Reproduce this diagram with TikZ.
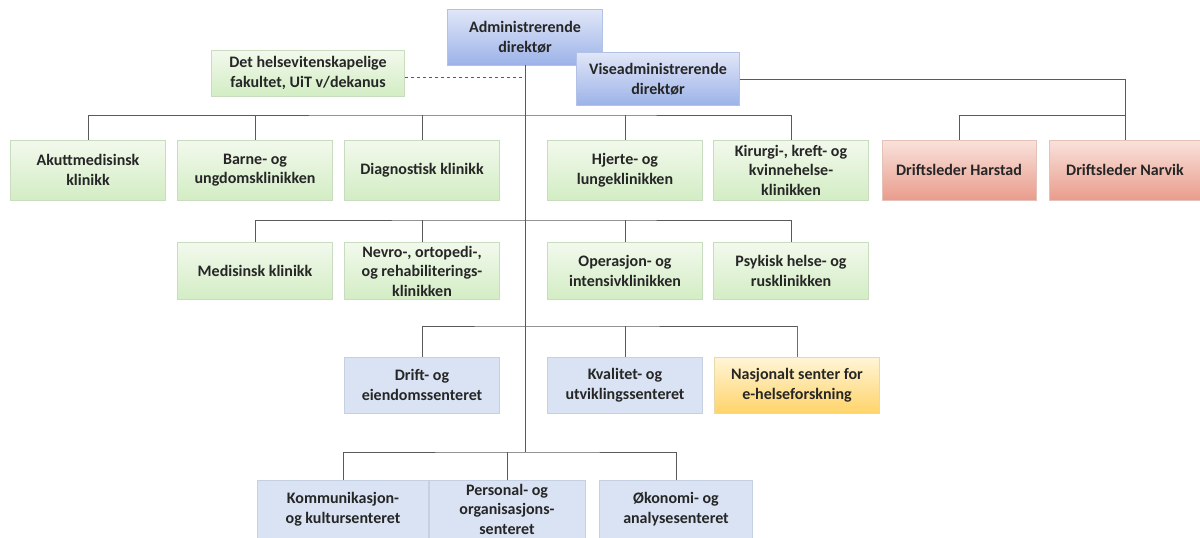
\documentclass[tikz,border=0pt]{standalone}
\usepackage{fontspec}
\setmainfont{Carlito}
\definecolor{linegray}{HTML}{5A5A5A}
\definecolor{txt}{HTML}{262626}
\definecolor{clinicedge}{HTML}{C9DCBF}
\definecolor{clinictop}{HTML}{F2F9ED}
\definecolor{clinicbot}{HTML}{D3EDC4}
\definecolor{centeredge}{HTML}{C6D0E3}
\definecolor{centerfill}{HTML}{DAE3F3}
\definecolor{bossedge}{HTML}{B2C1E6}
\definecolor{bosstop}{HTML}{E1E7F8}
\definecolor{bossbot}{HTML}{9CB2E8}
\definecolor{leaderedge}{HTML}{E3C2BA}
\definecolor{leadertop}{HTML}{F9E2DC}
\definecolor{leaderbot}{HTML}{E99C8C}
\definecolor{ehealthedge}{HTML}{EAD9A8}
\definecolor{ehealthtop}{HTML}{FFF5D8}
\definecolor{ehealthbot}{HTML}{FFD469}
\definecolor{linkblue}{HTML}{4472C4}
\tikzset{
	box/.style={draw=#1,minimum height=57pt,minimum width=155pt,align=center,inner sep=2pt,
		text=txt,font=\bfseries\fontsize{16}{19.5}\selectfont},
	clinic/.style={box=clinicedge,top color=clinictop,bottom color=clinicbot},
	center/.style={box=centeredge,fill=centerfill},
	boss/.style={box=bossedge,top color=bosstop,bottom color=bossbot},
	leader/.style={box=leaderedge,top color=leadertop,bottom color=leaderbot},
	ehealth/.style={box=ehealthedge,top color=ehealthtop,bottom color=ehealthbot},
	line/.style={draw=linegray,line width=1pt}
}
\begin{document}
\begin{tikzpicture}[x=1pt,y=-1pt]
\useasboundingbox (0,0) rectangle (1200,538);
\coordinate (bus1) at (525,115);
\coordinate (bus2) at (525,220);
\coordinate (bus3) at (525,326);
\coordinate (bus4) at (525,452);

\node (adm) [boss,minimum height=56pt] at (525,37) {Administrerende\\direktør};
\node (fak) [clinic,minimum width=193pt,minimum height=46pt] at (308,73) {Det helsevitenskapelige\\fakultet, UiT v/dekanus};
\draw[line,dashed,line width=0.8pt] ([yshift=-4pt]fak.east) -- ([yshift=-4pt]fak.east -| adm.south);
\draw[line] (adm.south) -- (bus4);
\node (vise) [boss,minimum width=163pt,minimum height=53pt] at (658,79) {Viseadministrerende\\direktør};

\node (akutt) [clinic,minimum height=60pt] at (88,170) {Akuttmedisinsk\\klinikk};
\node (barne) [clinic,minimum height=60pt] at (255,170) {Barne- og\\ungdomsklinikken};
\node (diag) [clinic,minimum height=60pt] at (422,170) {Diagnostisk klinikk};
\node (hjerte) [clinic,minimum height=60pt] at (625,170) {Hjerte- og\\lungeklinikken};
\node (kir) [clinic,minimum height=60pt] at (791,170) {Kirurgi-, kreft- og\\kvinnehelse-\\klinikken};
\node (harstad) [leader,minimum height=60pt,minimum width=154pt] at (959,170) {Driftsleder Harstad};
\node (narvik) [leader,minimum height=60pt,minimum width=152pt] at (1125,170) {Driftsleder Narvik};

\node (med) [clinic] at (255,271) {Medisinsk klinikk};
\node (nevro) [clinic] at (422,271) {Nevro-, ortopedi-,\\og rehabiliterings-\\klinikken};
\node (oper) [clinic] at (625,271) {Operasjon- og\\intensivklinikken};
\node (psyk) [clinic] at (791,271) {Psykisk helse- og\\rusklinikken};

\node (drift) [center,minimum height=56pt] at (422,385) {Drift- og\\eiendomssenteret};
\node (kval) [center,minimum height=56pt] at (625,385) {Kvalitet- og\\utviklingssenteret};
\node (nasj) [ehealth,minimum height=56pt,minimum width=165pt] at (797,385) {Nasjonalt senter for\\e-helseforskning};

\node (komm) [center,minimum height=58pt,minimum width=171pt] at (343,509) {Kommunikasjon-\\og kultursenteret};
\node (pers) [center,minimum height=58pt,minimum width=156pt] at (507,509) {Personal- og\\organisasjons-\\senteret};
\node (oko) [center,minimum height=58pt,minimum width=153pt] at (676,509) {Økonomi- og\\analysesenteret};

\draw[line] (akutt.north) |- (bus1) -| (kir.north);
\foreach \n in {barne,diag,hjerte}
	\draw[line] (\n.north) -- (\n.north |- bus1);
\draw[line] (vise.east) -| (narvik.north);
\draw[line] (harstad.north) |- (narvik.north |- bus1);
\draw[line] (med.north) |- (bus2) -| (psyk.north);
\foreach \n in {nevro,oper}
	\draw[line] (\n.north) -- (\n.north |- bus2);
\draw[line] (drift.north) |- (bus3) -- (bus3 -| nasj.north);
\draw[line] (kval.north) -- (kval.north |- bus3);
\draw[line,draw=linkblue] (nasj.north) -- (nasj.north |- bus3);
\draw[line] (komm.north) |- (bus4) -| (oko.north);
\draw[line] (pers.north) -- (pers.north |- bus4);
\end{tikzpicture}
\end{document}
